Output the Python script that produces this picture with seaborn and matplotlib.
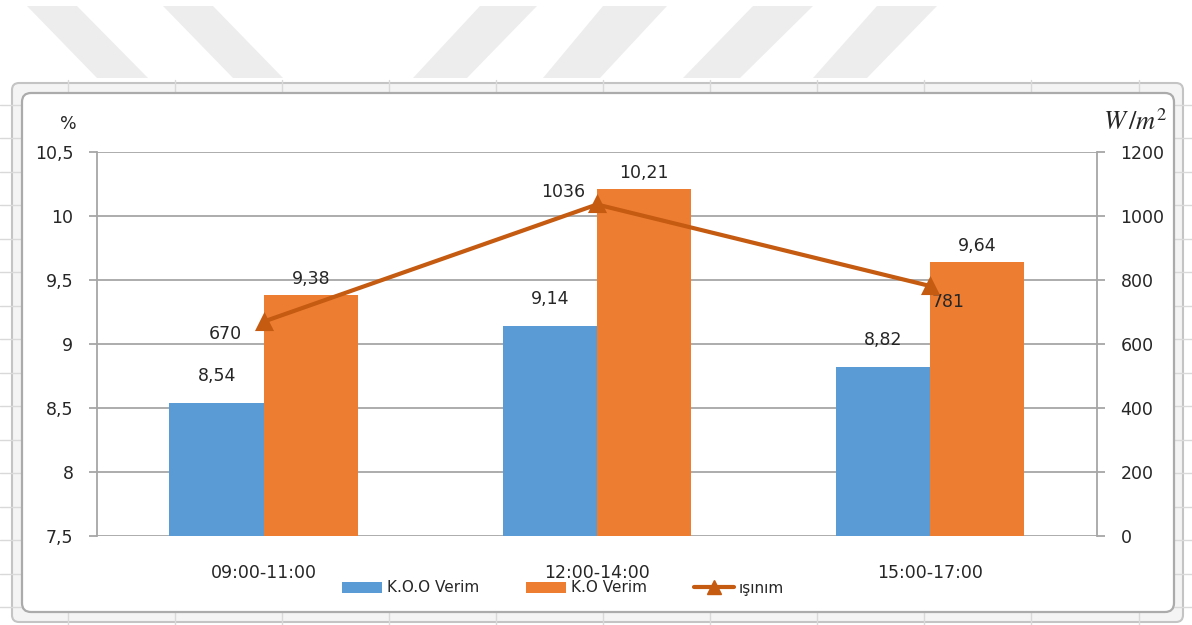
import matplotlib
matplotlib.use("Agg")
import matplotlib.pyplot as plt
import seaborn as sns
import pandas as pd
from matplotlib.patches import FancyBboxPatch, Polygon, Patch
from matplotlib.lines import Line2D

# ---- data ----
periods = ["09:00-11:00", "12:00-14:00", "15:00-17:00"]
koo_verim = [8.54, 9.14, 8.82]
ko_verim = [9.38, 10.21, 9.64]
isinim = [670, 1036, 781]
series_names = ["K.O.O Verim", "K.O Verim", "ışınım"]
left_ticks = [7.5, 8, 8.5, 9, 9.5, 10, 10.5]
right_ticks = [0, 200, 400, 600, 800, 1000, 1200]

BLUE = "#5B9BD5"
ORANGE = "#ED7D31"
DARK_ORANGE = "#C55A11"
GRID = "#a6a6a6"
TXT = "#262626"

sns.set_theme(style="white")
plt.rcParams["font.family"] = ["DejaVu Sans"]

W, H = 1192, 625
fig = plt.figure(figsize=(W / 100, H / 100), dpi=100)
fig.patch.set_facecolor("white")

# ---- background decoration (pixel coordinates) ----
bg = fig.add_axes([0, 0, 1, 1], zorder=-10)
bg.set_xlim(0, W)
bg.set_ylim(H, 0)
bg.axis("off")
stripes = [
    [(27, 6), (77, 6), (148, 78), (97, 78)],
    [(163, 6), (213, 6), (283, 78), (233, 78)],
    [(480, 6), (537, 6), (467, 78), (413, 78)],
    [(603, 6), (667, 6), (600, 78), (543, 78)],
    [(753, 6), (813, 6), (740, 78), (683, 78)],
    [(877, 6), (937, 6), (867, 78), (813, 78)],
]
for s in stripes:
    bg.add_patch(Polygon(s, closed=True, facecolor="#ededed", edgecolor="none", zorder=1))
bg.add_patch(FancyBboxPatch((12, 83), 1171, 539, boxstyle="round,pad=0,rounding_size=7",
                            facecolor="#f4f4f4", edgecolor="#c4c4c4", lw=1.5, zorder=2))
for k in range(11):
    x = 68 + 107.05 * k
    bg.plot([x, x], [80, 625], color="#d9d9d9", lw=1, zorder=3)
for k in range(-1, 16):
    y = 138 + 33.5 * k
    bg.plot([0, W], [y, y], color="#d9d9d9", lw=1, zorder=3)
bg.add_patch(FancyBboxPatch((22, 93), 1152, 519, boxstyle="round,pad=0,rounding_size=9",
                            facecolor="white", edgecolor="#ababab", lw=1.6, zorder=4))

# ---- main chart ----
ax = fig.add_axes([97 / W, 1 - 536 / H, 1000 / W, 384 / H])
ax.set_facecolor("none")

df = pd.DataFrame({
    "period": periods * 2,
    "series": [series_names[0]] * 3 + [series_names[1]] * 3,
    "value": koo_verim + ko_verim,
})
sns.barplot(data=df, x="period", y="value", hue="series", order=periods,
            hue_order=series_names[:2], palette=[BLUE, ORANGE], saturation=1,
            width=0.565, linewidth=0, errorbar=None, legend=False, ax=ax, zorder=2)

ax.set_ylim(7.5, 10.5)
ax.set_yticks(left_ticks)
ax.set_yticklabels([f"{t:g}".replace(".", ",") for t in left_ticks])
ax.set_xlim(-0.5, 2.5)
ax.set_xlabel("")
ax.set_ylabel("")
ax.yaxis.grid(True, color=GRID, lw=1.3)
ax.set_axisbelow(True)
for side in ["top", "bottom", "right"]:
    ax.spines[side].set_visible(False)
ax.spines["left"].set_color(GRID)
ax.spines["left"].set_linewidth(1.3)
ax.tick_params(axis="y", length=6, width=1.3, color=GRID, pad=11, labelsize=12.5, labelcolor=TXT)
ax.tick_params(axis="x", length=0, pad=20, labelsize=12.5, labelcolor=TXT)

# bar labels
pads = [13, 5]
vals = [koo_verim, ko_verim]
for cont, p, v in zip(ax.containers, pads, vals):
    ax.bar_label(cont, labels=[f"{x:.2f}".replace(".", ",") for x in v],
                 padding=p, fontsize=12.5, color=TXT)

# secondary axis
ax2 = ax.twinx()
sns.pointplot(x=periods, y=isinim, order=periods, ax=ax2, color=DARK_ORANGE,
              markers="^", markersize=10, linewidth=3, errorbar=None, zorder=5)
ax2.set_ylim(0, 1200)
ax2.set_yticks(right_ticks)
ax2.set_yticklabels([str(t) for t in right_ticks])
ax2.set_ylabel("")
ax2.set_xlim(-0.5, 2.5)
for side in ["top", "bottom", "left"]:
    ax2.spines[side].set_visible(False)
ax2.spines["right"].set_color(GRID)
ax2.spines["right"].set_linewidth(1.3)
ax2.tick_params(axis="y", length=6, width=1.3, color=GRID, pad=11, labelsize=12.5,
                labelcolor=TXT, right=True, left=False)

offsets = [(-22, -12, "right"), (-12, 12, "right"), (18, -16, "center")]
for i, (v, (dx, dy, ha)) in enumerate(zip(isinim, offsets)):
    ax2.annotate(str(v), xy=(i, v), xytext=(dx, dy), textcoords="offset pixels",
                 ha=ha, va="center", fontsize=12.5, color=TXT)

# axis unit labels
fig.text(68 / W, 1 - 124 / H, "%", ha="center", va="center", fontsize=12.5, color=TXT)
fig.text(1135 / W, 1 - 123 / H, r"$W\,/m^2$", ha="center", va="center", fontsize=19,
         color=TXT, math_fontfamily="stix")

# legend
handles = [
    Patch(facecolor=BLUE, edgecolor="none"),
    Patch(facecolor=ORANGE, edgecolor="none"),
    Line2D([0], [0], color=DARK_ORANGE, lw=3, marker="^", markersize=10),
]
fig.legend(handles, series_names, loc="center", bbox_to_anchor=(563 / W, 1 - 588 / H),
           ncol=3, frameon=False, fontsize=11, handlelength=2.6, handleheight=0.75,
           handletextpad=0.3, columnspacing=3.1, labelcolor=TXT)

fig.savefig("out.png", dpi=100)
